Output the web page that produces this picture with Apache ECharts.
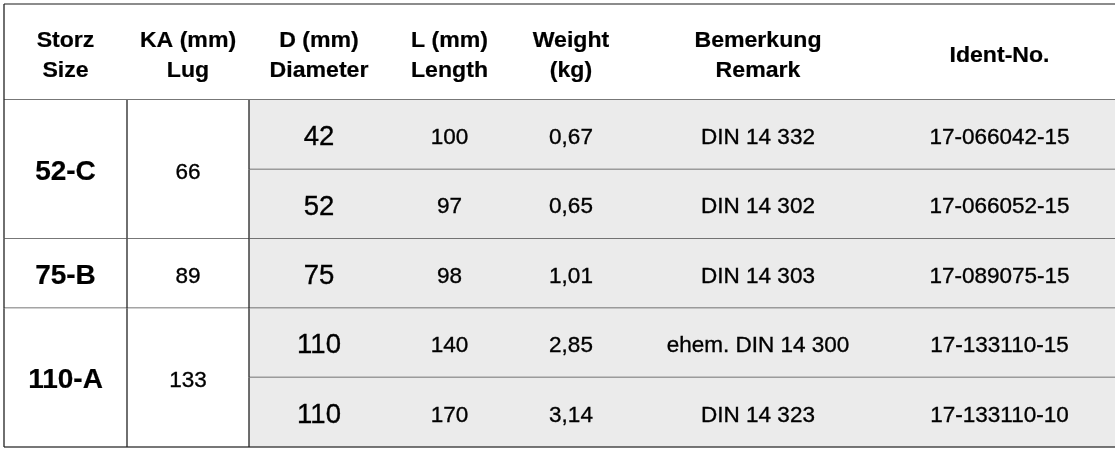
<!DOCTYPE html>
<html><head><meta charset="utf-8">
<script src="https://cdn.jsdelivr.net/npm/echarts@6/dist/echarts.min.js"></script>
<style>html,body{margin:0;padding:0;background:#fff}#chart{width:1115px;height:455px}</style>
</head><body><div id="chart"></div>
<script>
// ---- data ----
const headers = ['Storz\nSize', 'KA (mm)\nLug', 'D (mm)\nDiameter', 'L (mm)\nLength', 'Weight\n(kg)', 'Bemerkung\nRemark', 'Ident-No.'];
const storzSizes = ['52-C', '75-B', '110-A'];
const lugs = [66, 89, 133];
const sizeRowSpans = [2, 1, 2];
const diameters = [42, 52, 75, 110, 110];
const lengths = [100, 97, 98, 140, 170];
const weights = [0.67, 0.65, 1.01, 2.85, 3.14];
const remarks = ['DIN 14 332', 'DIN 14 302', 'DIN 14 303', 'ehem. DIN 14 300', 'DIN 14 323'];
const identNos = ['17-066042-15', '17-066052-15', '17-089075-15', '17-133110-15', '17-133110-10'];

// ---- layout ----
const colEdges = [4, 127, 249, 389, 510, 632, 884, 1115];
const headerRowUnits = 1.383;
const FONT = '"Liberation Sans", Arial, sans-serif';
const kinds = {
  header: { size: 22, weight: 'bold', lh: 30, sx: 1.05, dy: 4, sw: 0.2 },
  size:   { size: 28, weight: 'bold', lh: 30, sx: 1.0, dy: 3, sw: 0.2 },
  dia:    { size: 27.5, weight: 'normal', lh: 30, sx: 1.0, dy: 3, sw: 0.35 },
  body:   { size: 22.5, weight: 'normal', lh: 26, sx: 1.0, dy: 3, sw: 0.35 }
};

// ---- build cells ----
const cells = [];
headers.forEach((h, i) => cells.push({ col: i, row: -headerRowUnits, span: headerRowUnits, text: h, kind: 'header' }));
let r = 0;
storzSizes.forEach((s, i) => {
  cells.push({ col: 0, row: r, span: sizeRowSpans[i], text: s, kind: 'size' });
  cells.push({ col: 1, row: r, span: sizeRowSpans[i], text: String(lugs[i]), kind: 'body' });
  r += sizeRowSpans[i];
});
diameters.forEach((d, i) => {
  cells.push({ col: 2, row: i, span: 1, text: String(d), kind: 'dia' });
  cells.push({ col: 3, row: i, span: 1, text: String(lengths[i]), kind: 'body' });
  cells.push({ col: 4, row: i, span: 1, text: weights[i].toFixed(2).replace('.', ','), kind: 'body' });
  cells.push({ col: 5, row: i, span: 1, text: remarks[i], kind: 'body' });
  cells.push({ col: 6, row: i, span: 1, text: identNos[i], kind: 'body' });
});

const H_LINE = '#4a4a4a', V_LINE = '#222', GRAY = '#ebebeb';

function renderItem(params, api) {
  const c = cells[params.dataIndex];
  const p0 = api.coord([colEdges[c.col], c.row]);
  const p1 = api.coord([colEdges[c.col + 1], c.row + c.span]);
  const x0 = p0[0], y0 = p0[1], x1 = p1[0], y1 = p1[1];
  const isHeader = c.kind === 'header';
  const children = [];
  children.push({ type: 'rect', shape: { x: x0, y: y0, width: x1 - x0, height: y1 - y0 },
    style: { fill: (!isHeader && c.col >= 2) ? GRAY : '#fff' } });
  children.push({ type: 'line', shape: { x1: x0, y1: y1, x2: x1, y2: y1 }, style: { stroke: H_LINE, lineWidth: 1.5 } });
  if (isHeader) children.push({ type: 'line', shape: { x1: x0, y1: y0, x2: x1, y2: y0 }, style: { stroke: '#666', lineWidth: 1.5 } });
  if ((isHeader && c.col === 0) || (!isHeader && c.col <= 2))
    children.push({ type: 'line', shape: { x1: x0, y1: y0, x2: x0, y2: y1 }, style: { stroke: V_LINE, lineWidth: 1.3 } });
  const k = kinds[c.kind];
  children.push({ type: 'text', x: (x0 + x1) / 2, y: (y0 + y1) / 2 + k.dy, scaleX: k.sx,
    style: { text: c.text, x: 0, y: 0, align: 'center', verticalAlign: 'middle',
      fontSize: k.size, fontWeight: k.weight, fontFamily: FONT, lineHeight: k.lh, fill: '#000',
      stroke: '#000', lineWidth: k.sw } });
  return { type: 'group', children };
}

const chart = echarts.init(document.getElementById('chart'), null, { renderer: 'canvas' });
chart.setOption({
  animation: false,
  backgroundColor: '#fff',
  grid: { left: 0, right: 0, top: 4, bottom: 8 },
  xAxis: { type: 'value', min: 0, max: 1115, show: false },
  yAxis: { type: 'value', inverse: true, min: -headerRowUnits, max: 5, show: false },
  series: [{
    type: 'custom',
    renderItem,
    clip: false,
    encode: { x: 0, y: 1 },
    data: cells.map(c => [colEdges[c.col], c.row, c.span])
  }]
});
</script></body></html>
